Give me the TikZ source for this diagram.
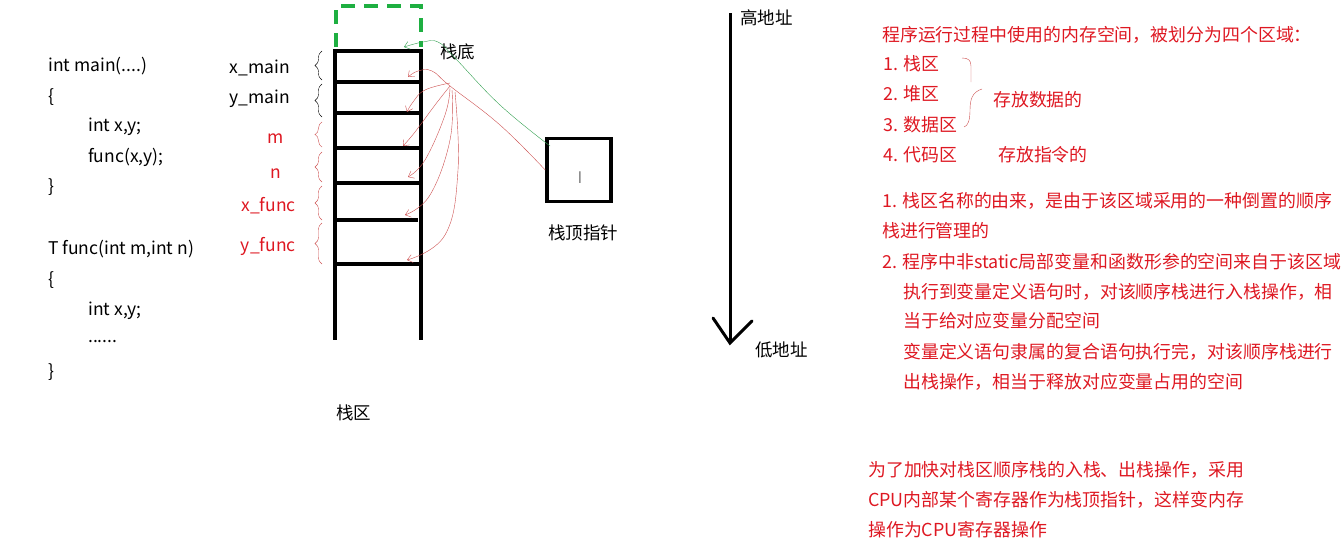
\documentclass[tikz,border=0pt]{standalone}
\usepackage{fontspec}
\setmainfont{Noto Sans CJK SC}
\usepackage{xcolor}
\usepackage{tikz}
\usetikzlibrary{arrows.meta,calc}
\usetikzlibrary{decorations.pathreplacing}
\definecolor{txtred}{RGB}{222,24,34}
\definecolor{pen}{RGB}{205,80,80}
\definecolor{pengreen}{RGB}{50,160,80}
\definecolor{boxgreen}{RGB}{30,175,65}
\tikzset{
    code/.style={anchor=west, inner sep=0pt, font=\fontsize{17.5}{20}\selectfont},
    lab/.style={anchor=west, inner sep=0pt, font=\fontsize{17.5}{20}\selectfont},
    note/.style={anchor=west, inner sep=0pt, text=txtred, font=\fontsize{17.9}{21}\selectfont},
    wall/.style={line width=3.5pt},
    brc/.style={decorate, decoration={brace, amplitude=7pt}, thin},
    pointer/.style={pen, thin, -{Straight Barb[length=5pt,width=8pt]}}}

\begin{document}
\begin{tikzpicture}[x=1pt,y=-1pt]
\useasboundingbox (0,0) rectangle (1343,552);

% code
\node[code] (c0) at (48,66) {int main(....)};
\node[code] (c1) at (48,97) {\{};
\node[code] (c2) at (88,127) {int x,y;};
\node[code] (c3) at (88,157) {func(x,y);};
\node[code] (c4) at (48,187) {\}};
\node[code] (c5) at (48,249) {T func(int m,int n)};
\node[code] (c6) at (48,280) {\{};
\node[code] (c7) at (88,311) {int x,y;};
\node[code] (c8) at (88,342) {......};
\node[code] (c9) at (48,372) {\}};

% stack
\coordinate (s0) at (335,49);
\coordinate (s1) at (421,49);
\draw[wall] (335,49) -- (335,340);
\draw[wall] (421,49) -- (421,340);
\foreach \y in {51,82,113,148,183,264}
  \draw[wall] (335,\y) -- (421,\y);
\draw[wall] (335,220) -- (418,220);
\draw[boxgreen, line width=3.5pt, dash pattern=on 14pt off 9pt] (336,47) -- (336,6) -- (421,6) -- (421,47);

% names
\node[lab, anchor=east] (xm) at (290,68) {x\_main};
\node[lab, anchor=east] (ym) at (290,99) {y\_main};
\node[lab, anchor=east, text=txtred] (vm) at (284,139) {m};
\node[lab, anchor=east, text=txtred] (vn) at (281,174) {n};
\node[lab, anchor=east, text=txtred] (xf) at (296,206) {x\_func};
\node[lab, anchor=east, text=txtred] (yf) at (296,246) {y\_func};
\draw[brc] (322,80) -- (322,51);
\draw[brc] (322,117) -- (322,84);
\draw[brc, pen] (322,147) -- (322,122);
\draw[brc, pen] (322,182) -- (322,152);
\draw[brc, pen] (322,220) -- (322,186);
\draw[brc, pen] (322,264) -- (322,223);
\node[lab] (sq) at (336,413) {栈区};

% stack pointer
\node[draw, line width=3.5pt, minimum width=64pt, minimum height=63pt, inner sep=0pt] (sp) at (579,170) {};
\node[inner sep=0pt, text=gray, font=\fontsize{16}{18}\selectfont] (cur) at (580,178) {I};
\node[lab] (spl) at (548,233) {栈顶指针};
\node[lab] (bot) at (440,52) {栈底};

\draw[pengreen, thin, -{Straight Barb[length=5pt,width=8pt]}] plot[smooth, tension=.7] coordinates {(550,146) (500,105) (455,58) (438,42) (423,42) (404,47)};
\draw[pointer] plot[smooth, tension=.7] coordinates {(sp.west) (500,125) (450,86) (432,71) (418,71) (408,77)};
\draw[pointer] plot[smooth, tension=.7] coordinates {(450,83) (425,90) (413,102) (407,112)};
\draw[pointer] plot[smooth, tension=.7] coordinates {(450,86) (435,105) (415,132) (403,146)};
\draw[pointer] plot[smooth, tension=.7] coordinates {(450,88) (445,115) (425,160) (408,177)};
\draw[pointer] plot[smooth, tension=.7] coordinates {(452,90) (450,140) (430,195) (405,215)};
\draw[pointer] plot[smooth, tension=.7] coordinates {(455,92) (458,170) (445,235) (407,260)};

% address arrow
\node[lab] (hi) at (740,18) {高地址};
\node[lab] (lo) at (755,350) {低地址};
\coordinate (a0) at (730,13);
\coordinate (a1) at (730,343);
\draw[line width=3pt] (a0) -- (a1);
\draw[line width=3pt, line cap=round] (713,318) -- (a1) -- (752,321);

% notes
\node[note] (t0) at (882,35) {程序运行过程中使用的内存空间，被划分为四个区域：};
\node[note] (t1) at (883,64) {1. 栈区};
\node[note] (t2) at (883,94) {2. 堆区};
\node[note] (t3) at (883,125) {3. 数据区};
\node[note] (t4) at (883,155) {4. 代码区};
\node[note] (d1) at (993,100) {存放数据的};
\node[note] (d2) at (998,155) {存放指令的};
\draw[pen, thin] (962,58) .. controls (968,58) and (971,60) .. (971,66) -- (971,82);
\draw[pen, thin] (982,89) .. controls (972,92) and (970,100) .. (970,110) .. controls (970,120) and (968,126) .. (964,127);
\node[note] (t5) at (882,201) {1. 栈区名称的由来，是由于该区域采用的一种倒置的顺序};
\node[note] (t6) at (882,231) {栈进行管理的};
\node[note] (t7) at (882,262) {2. 程序中非static局部变量和函数形参的空间来自于该区域};
\node[note] (t8) at (903,292) {执行到变量定义语句时，对该顺序栈进行入栈操作，相};
\node[note] (t9) at (903,321) {当于给对应变量分配空间};
\node[note] (t10) at (903,352) {变量定义语句隶属的复合语句执行完，对该顺序栈进行};
\node[note] (t11) at (903,382) {出栈操作，相当于释放对应变量占用的空间};
\node[note] (u0) at (868,470) {为了加快对栈区顺序栈的入栈、出栈操作，采用};
\node[note] (u1) at (868,500) {CPU内部某个寄存器作为栈顶指针，这样变内存};
\node[note] (u2) at (868,530) {操作为CPU寄存器操作};
\end{tikzpicture}
\end{document}
